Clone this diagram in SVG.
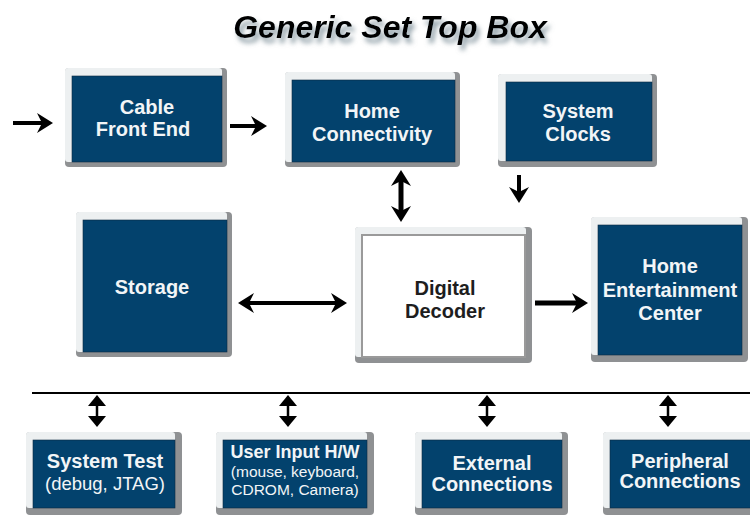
<svg xmlns="http://www.w3.org/2000/svg" width="750" height="515" viewBox="0 0 750 515">
<defs>
<style>
.edge{fill:#8f9193}
.frame{fill:#edf0f1}
.blue{fill:#03426d;stroke:#0d2a40;stroke-width:0.6}
.white{fill:#fff;stroke:#9a9a9a;stroke-width:2}
.lbl{font-family:"Liberation Sans",Arial,sans-serif;font-weight:bold;font-size:20px;fill:#f2f5f7;text-anchor:middle}
.dark{fill:#1e1e1e}
.sub{font-weight:normal}
.conn{stroke:#000;fill:none}
.title{font-family:"Liberation Sans",Arial,sans-serif;font-weight:bold;font-style:italic;font-size:32px;fill:#000;text-anchor:middle}
</style>
<filter id="ts" x="-10%" y="-40%" width="120%" height="200%"><feDropShadow dx="3" dy="5" stdDeviation="2.5" flood-color="#6f848f" flood-opacity="0.8"/></filter>
<marker id="big" viewBox="0 -10 16 20" markerWidth="16" markerHeight="20" refX="6" refY="0" orient="auto-start-reverse" markerUnits="userSpaceOnUse"><path d="M0,-10 L16,0 L0,10 L5,0 Z" fill="#000"/></marker>
<marker id="sm" viewBox="0 -9 11 18" markerWidth="11" markerHeight="18" refX="2" refY="0" orient="auto-start-reverse" markerUnits="userSpaceOnUse"><path d="M0,-9 L11,0 L0,9 Z" fill="#000"/></marker>
</defs>
<rect width="750" height="515" fill="#fff"/>
<text class="title" x="390" y="38" filter="url(#ts)">Generic Set Top Box</text>

<g id="connectors">
<line class="conn" x1="13" y1="123" x2="43" y2="123" stroke-width="4" marker-end="url(#big)"/>
<line class="conn" x1="230" y1="126" x2="257" y2="126" stroke-width="4" marker-end="url(#big)"/>
<line class="conn" x1="401" y1="180" x2="401" y2="212" stroke-width="5" marker-start="url(#big)" marker-end="url(#big)"/>
<line class="conn" x1="519" y1="175" x2="519" y2="193" stroke-width="4" marker-end="url(#big)"/>
<line class="conn" x1="248" y1="303" x2="337" y2="303" stroke-width="4" marker-start="url(#big)" marker-end="url(#big)"/>
<line class="conn" x1="535" y1="303" x2="578" y2="303" stroke-width="5" marker-end="url(#big)"/>
<line class="conn" x1="32" y1="393" x2="750" y2="393" stroke-width="2"/>
<line class="conn" x1="97" y1="404" x2="97" y2="418" stroke-width="2.5" marker-start="url(#sm)" marker-end="url(#sm)"/>
<line class="conn" x1="288" y1="404" x2="288" y2="418" stroke-width="2.5" marker-start="url(#sm)" marker-end="url(#sm)"/>
<line class="conn" x1="487" y1="404" x2="487" y2="418" stroke-width="2.5" marker-start="url(#sm)" marker-end="url(#sm)"/>
<line class="conn" x1="668" y1="404" x2="668" y2="418" stroke-width="2.5" marker-start="url(#sm)" marker-end="url(#sm)"/>
</g>

<g id="cable-front-end">
<rect class="edge" x="65" y="68" width="162" height="99" rx="4"/>
<rect class="frame" x="65" y="68" width="157" height="94" rx="3"/>
<rect class="blue" x="72" y="76" width="150" height="86"/>
<text class="lbl" x="147" y="114">Cable</text>
<text class="lbl" x="143" y="136">Front End</text>
</g>

<g id="home-connectivity">
<rect class="edge" x="285" y="72" width="175" height="95" rx="4"/>
<rect class="frame" x="285" y="72" width="170" height="90" rx="3"/>
<rect class="blue" x="292" y="80" width="163" height="82"/>
<text class="lbl" x="372" y="118">Home</text>
<text class="lbl" x="372" y="141">Connectivity</text>
</g>

<g id="system-clocks">
<rect class="edge" x="498" y="74" width="159" height="93" rx="4"/>
<rect class="frame" x="498" y="74" width="154" height="87" rx="3"/>
<rect class="blue" x="506" y="82" width="146" height="79"/>
<text class="lbl" x="578" y="118">System</text>
<text class="lbl" x="578" y="141">Clocks</text>
</g>

<g id="storage">
<rect class="edge" x="76" y="212" width="156" height="145" rx="4"/>
<rect class="frame" x="76" y="212" width="151" height="140" rx="3"/>
<rect class="blue" x="83" y="220" width="144" height="132"/>
<text class="lbl" x="152" y="294">Storage</text>
</g>

<g id="digital-decoder">
<rect class="edge" x="355" y="227" width="177" height="136" rx="4"/>
<rect class="frame" x="355" y="227" width="171" height="130" rx="3"/>
<rect class="white" x="362" y="235" width="163" height="122"/>
<text class="lbl dark" x="445" y="295">Digital</text>
<text class="lbl dark" x="445" y="318">Decoder</text>
</g>

<g id="home-entertainment-center">
<rect class="edge" x="591" y="217" width="157" height="145" rx="4"/>
<rect class="frame" x="591" y="217" width="151" height="138" rx="3"/>
<rect class="blue" x="598" y="225" width="144" height="130"/>
<text class="lbl" x="670" y="273">Home</text>
<text class="lbl" x="670" y="297">Entertainment</text>
<text class="lbl" x="670" y="320">Center</text>
</g>

<g id="system-test">
<rect class="edge" x="26" y="432" width="156" height="83" rx="4"/>
<rect class="frame" x="26" y="432" width="149" height="76" rx="3"/>
<rect class="blue" x="33" y="440" width="142" height="68"/>
<text class="lbl" x="105" y="468">System Test</text>
<text class="lbl sub" x="105" y="490" style="font-size:18.5px">(debug, JTAG)</text>
</g>

<g id="user-input">
<rect class="edge" x="216" y="432" width="158" height="83" rx="4"/>
<rect class="frame" x="216" y="432" width="151" height="76" rx="3"/>
<rect class="blue" x="223" y="440" width="144" height="68"/>
<text class="lbl" x="295" y="458" style="font-size:18px">User Input H/W</text>
<text class="lbl sub" x="295" y="477" style="font-size:15.5px">(mouse, keyboard,</text>
<text class="lbl sub" x="295" y="495" style="font-size:15.5px">CDROM, Camera)</text>
</g>

<g id="external-connections">
<rect class="edge" x="415" y="432" width="153" height="83" rx="4"/>
<rect class="frame" x="415" y="432" width="147" height="76" rx="3"/>
<rect class="blue" x="422" y="440" width="140" height="68"/>
<text class="lbl" x="492" y="470">External</text>
<text class="lbl" x="492" y="491">Connections</text>
</g>

<g id="peripheral-connections">
<rect class="edge" x="603" y="432" width="152" height="83" rx="4"/>
<rect class="frame" x="603" y="432" width="152" height="76" rx="3"/>
<rect class="blue" x="610" y="440" width="145" height="68"/>
<text class="lbl" x="680" y="468">Peripheral</text>
<text class="lbl" x="680" y="488">Connections</text>
</g>
</svg>
